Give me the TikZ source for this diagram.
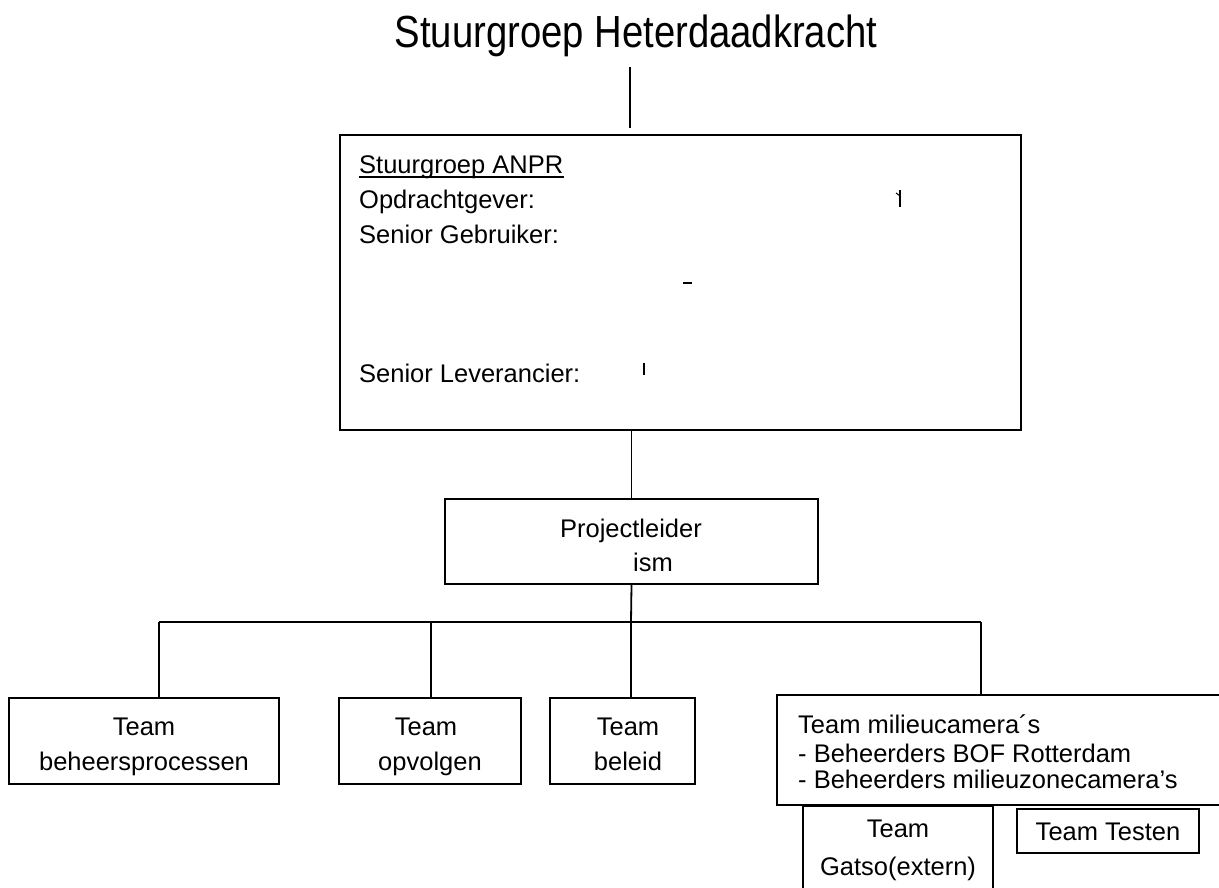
\documentclass[tikz,border=0pt]{standalone}
\usepackage{fontspec}
\setmainfont{Liberation Sans}
\newfontfamily\titlefont[FakeStretch=0.85]{Liberation Sans}
\begin{document}
\begin{tikzpicture}[x=1pt,y=-1pt,
  tbox/.style={draw, line width=1.7pt, inner sep=0pt, rectangle},
  txt/.style={inner sep=0pt, font=\fontsize{25.5}{30}\selectfont},
  ttl/.style={inner sep=0pt, font=\titlefont\fontsize{45}{50}\selectfont},
  conn/.style={line width=1.8pt},
  speck/.style={line width=1.6pt}]
\useasboundingbox (0,0) rectangle (1219,887);
\fill[white] (0,0) rectangle (1219,887);

% title
\node[ttl, anchor=base] (title) at (636,47) {Stuurgroep Heterdaadkracht};
\coordinate (t1) at (630,67);
\coordinate (t2) at (630,128);
\draw[conn] (t1) -- (t2);

% steering group box
\node[tbox, minimum width=681pt, minimum height=295pt] (big) at (680.5,282.5) {};
\node[txt, anchor=base west] (anpr) at (359,173) {Stuurgroep ANPR};
\draw[line width=1.1pt] ([yshift=-4pt]anpr.base west) -- ([yshift=-4pt]anpr.base east);
\node[txt, anchor=base west] (opdr) at (359,208) {Opdrachtgever:};
\node[txt, anchor=base west] (sgeb) at (359,243) {Senior Gebruiker:};
\node[txt, anchor=base west] (slev) at (359,382) {Senior Leverancier:};
% remnants
\draw[line width=2.4pt] (900,190) -- (900,207);
\draw[line width=1pt] (896,193) -- (900,196);
\draw[speck] (683,283) -- (692,283);
\draw[speck] (644,363) -- (644,375);

% project leader
\node[tbox, minimum width=373pt, minimum height=85pt] (proj) at (631.5,541.5) {};
\node[txt, anchor=base] (projt) at (631,537) {Projectleider};
\node[txt, anchor=base] (ism) at (653,571) {ism};
\draw[conn] (proj.north) -- (proj.north |- big.south);

% bus
\coordinate (bus) at (631,622);
\coordinate (d1) at (159,622);
\coordinate (d2) at (431,622);
\coordinate (d3) at (631,622);
\coordinate (d4) at (981,622);
\draw[conn] (proj.south) -- (bus);
\draw[conn] (d1) -- (d4);

% teams
\node[tbox, minimum width=270pt, minimum height=86pt] (b1) at (144,741) {};
\node[txt, anchor=base] (b1a) at (144,735) {Team};
\node[txt, anchor=base] (b1b) at (144,770) {beheersprocessen};

\node[tbox, minimum width=182pt, minimum height=86pt] (b2) at (430,741) {};
\node[txt, anchor=base] (b2a) at (426,735) {Team};
\node[txt, anchor=base] (b2b) at (430,770) {opvolgen};

\node[tbox, minimum width=145pt, minimum height=86pt] (b3) at (622.5,741) {};
\node[txt, anchor=base] (b3a) at (628,735) {Team};
\node[txt, anchor=base] (b3b) at (628,770) {beleid};

\node[tbox, minimum width=448pt, minimum height=110pt] (b4) at (1001,750) {};
\node[txt, anchor=base west] (b4a) at (798,733) {Team milieucamera´s};
\node[txt, anchor=base west] (b4b) at (798,762) {- Beheerders BOF Rotterdam};
\node[txt, anchor=base west] (b4c) at (798,788) {- Beheerders milieuzonecamera’s};

\draw[conn] (d1) -- (d1 |- b1.north);
\draw[conn] (d2) -- (d2 |- b2.north);
\draw[conn] (d3) -- (d3 |- b3.north);
\draw[conn] (d4) -- (d4 |- b4.north);

% sub teams
\node[tbox, minimum width=190pt, minimum height=94pt] (gatso) at (898,853) {};
\node[txt, anchor=base] (gta) at (898,837) {Team};
\node[txt, anchor=base] (gtb) at (898,875) {Gatso(extern)};

\node[tbox, minimum width=182pt, minimum height=44pt] (test) at (1108,831) {};
\node[txt, anchor=base] (tst) at (1108,840) {Team Testen};
\end{tikzpicture}
\end{document}
